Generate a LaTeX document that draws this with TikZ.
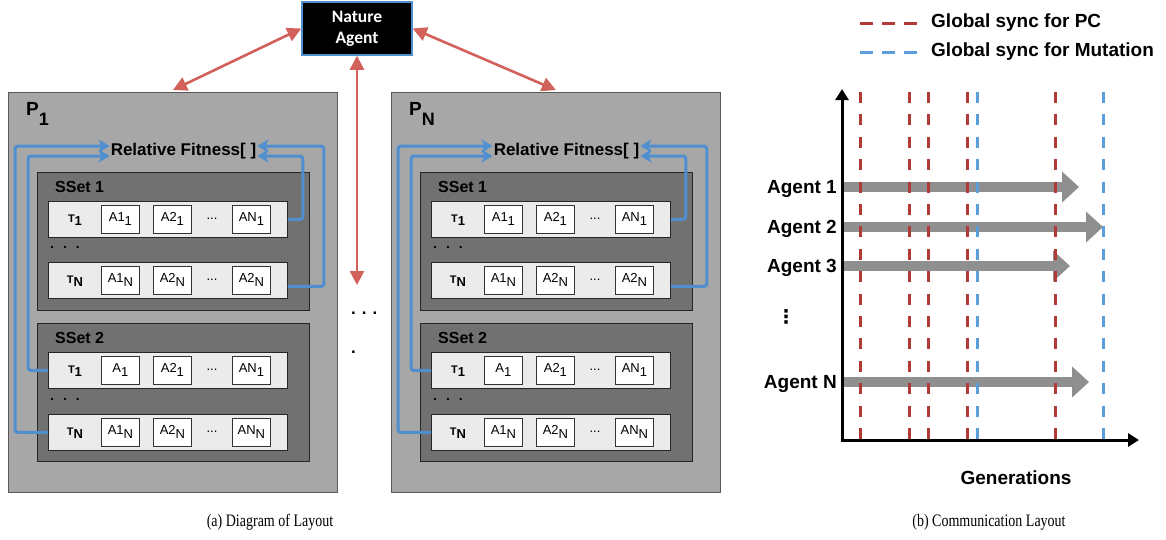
\documentclass[tikz,border=0pt]{standalone}
\usepackage{fontspec}
\setmainfont{Liberation Sans}
\newfontfamily\capserif{Liberation Serif}
\newfontfamily\natfont{Carlito}
\newfontfamily\symfont{DejaVu Sans}
\usetikzlibrary{arrows.meta,calc}
\newcommand{\setfs}[1]{\fontsize{#1}{#1}\selectfont}
\newcommand{\lowsub}[1]{\raisebox{-4pt}{#1}}
\newcommand{\tsub}[1]{T\raisebox{-3.5pt}{\setfs{13}#1}}
\newcommand{\capt}[1]{\scalebox{0.8}[1]{#1}}
\definecolor{panelgray}{HTML}{A7A7A7}
\definecolor{ssetgray}{HTML}{717171}
\definecolor{rowgray}{HTML}{EBEBEB}
\definecolor{linkblue}{HTML}{4F8FD0}
\definecolor{natred}{HTML}{D2605B}
\definecolor{syncred}{HTML}{B23A36}
\definecolor{syncblue}{HTML}{5A9FDB}
\definecolor{agentgray}{HTML}{8F8F8F}
\tikzset{
 panelbox/.style={draw=black!65, fill=panelgray, line width=0.8pt, minimum width=329pt, minimum height=400pt, anchor=north west, inner sep=0pt},
 ssetbox/.style={draw=black!85, fill=ssetgray, line width=1pt, minimum width=272pt, minimum height=138pt, anchor=north west, inner sep=0pt},
 rowbox/.style={draw=black!85, fill=rowgray, line width=0.9pt, minimum width=239pt, minimum height=36pt, anchor=north west, inner sep=0pt},
 abox/.style={draw=black!80, fill=white, line width=0.8pt, minimum width=38pt, minimum height=28pt, anchor=north west, inner sep=0pt, font=\setfs{13}},
 tlab/.style={font=\bfseries\setfs{11}, inner sep=0pt},
 adots/.style={font=\setfs{13}, inner sep=0pt},
 ssetlab/.style={font=\bfseries\setfs{16}, anchor=west, inner sep=0pt},
 plab/.style={font=\bfseries\setfs{19}, anchor=base west, inner sep=0pt},
 rflab/.style={font=\bfseries\setfs{17}, inner sep=1pt},
 rowdots/.style={font=\bfseries\setfs{14}, anchor=west, inner sep=0pt},
 link/.style={draw=linkblue, line width=3pt, rounded corners=3pt, -{Stealth[length=11pt,width=13pt,inset=3pt]}},
 natlink/.style={draw=natred, line width=2.6pt, {Triangle[length=14pt,width=14pt]}-{Triangle[length=14pt,width=14pt]}},
 naturebox/.style={fill=black, draw=linkblue, line width=1.5pt, text=white, minimum width=110pt, minimum height=53pt, align=center, inner sep=0pt, font=\natfont\bfseries\fontsize{17.5}{21}\selectfont},
 middots/.style={font=\bfseries\setfs{17}, anchor=west, inner sep=0pt},
 syncpc/.style={draw=syncred, line width=3pt, dash pattern=on 11pt off 11.4pt},
 syncmut/.style={draw=syncblue, line width=3pt, dash pattern=on 11pt off 11.4pt},
 legpc/.style={draw=syncred, line width=3pt, dash pattern=on 13pt off 9pt},
 legmut/.style={draw=syncblue, line width=3pt, dash pattern=on 13pt off 9pt},
 leglab/.style={font=\bfseries\setfs{19}, anchor=west, inner sep=0pt},
 agentlab/.style={font=\bfseries\setfs{19}, anchor=base east, inner sep=0pt},
 agentarrow/.style={draw=agentgray, line width=10pt, -{Triangle[length=17pt,width=30pt]}},
 axisline/.style={draw=black, line width=3pt, -{Triangle[length=11pt,width=13pt]}},
 captext/.style={font=\capserif\setfs{17.5}, inner sep=0pt},
}
\newcommand{\trow}[6]{%
  \node[rowbox] (#1) at (48,#2) {};
  \node[tlab] (#1t) at (75,#2+19) {#3};
  \node[abox] (#1a) at (101,#2+4) {#4};
  \node[abox] (#1b) at (153,#2+4) {#5};
  \node[adots] (#1d) at (212,#2+18) {...};
  \node[abox] (#1c) at (232,#2+4) {#6};
}
\begin{document}
\begin{tikzpicture}[x=1pt,y=-1pt]
\useasboundingbox (0,0) rectangle (1166,539);
\fill[white] (0,0) rectangle (1166,539);

% ---------- panel (a) ----------
\foreach \k/\dx/\s in {1/0/1,2/383/N}{
 \begin{scope}[xshift=\dx pt]
  \node[panelbox] (pan\k) at (8,92) {};
  \node[plab] (plab\k) at (26,115) {P\raisebox{-10pt}{\setfs{18}\s}};
  \node[rflab] (rf\k) at (183.5,151) {Relative Fitness[ ]};
  \node[ssetbox] (ssa\k) at (37,172) {};
  \node[ssetlab] (ssal\k) at (55,187) {SSet 1};
  \trow{ra\k}{201}{\tsub{1}}{A1\lowsub{1}}{A2\lowsub{1}}{AN\lowsub{1}}
  \node[rowdots] (rdots\k) at (50,247) {.\hskip9pt.\hskip9pt.};
  \trow{rb\k}{262}{\tsub{N}}{A1\lowsub{N}}{A2\lowsub{N}}{A2\lowsub{N}}
  \node[ssetbox] (ssb\k) at (37,323) {};
  \node[ssetlab] (ssbl\k) at (55,338) {SSet 2};
  \trow{rc\k}{352}{\tsub{1}}{A\lowsub{1}}{A2\lowsub{1}}{AN\lowsub{1}}
  \node[rowdots] (rdotsb\k) at (50,399) {.\hskip9pt.\hskip9pt.};
  \trow{rd\k}{414}{\tsub{N}}{A1\lowsub{N}}{A2\lowsub{N}}{AN\lowsub{N}}
  \draw[link] (ra\k.east) -- ++(15,0) |- ($(rf\k.east)+(0,5)$);
  \draw[link] ($(rb\k.east)+(0,6)$) -- ++(36,0) |- ($(rf\k.east)+(0,-5)$);
  \draw[link] (rc\k.west) -- ++(-20,0) |- ($(rf\k.west)+(0,5)$);
  \draw[link] (rd\k.west) -- ++(-33,0) |- ($(rf\k.west)+(0,-5)$);
 \end{scope}
}

\node[naturebox] (nat) at (357,28.5) {Nature\\Agent};
\coordinate (midend) at (357,285);
\draw[natlink] (nat.west) -- ($(pan1.north)+(0,-2)$);
\draw[natlink] (nat.east) -- ($(pan2.north)+(0,-2)$);
\draw[natlink] (nat.south) -- (midend);
\node[middots] (md1) at (351,313) {.\hskip6pt.\hskip6pt.};
\node[middots] (md2) at (351,352) {.};

% ---------- panel (b) ----------
\coordinate (lg1a) at (860,23); \coordinate (lg1b) at (918,23);
\coordinate (lg2a) at (860,52); \coordinate (lg2b) at (918,52);
\draw[legpc] (lg1a) -- (lg1b);
\draw[legmut] (lg2a) -- (lg2b);
\node[leglab] (leg1) at (931,23) {Global sync for PC};
\node[leglab] (leg2) at (931,52) {Global sync for Mutation};

\foreach \n/\y/\tip/\lab in {1/187/1079/Agent 1,2/227/1103/Agent 2,3/266/1070/Agent 3,4/382/1089/Agent N}{
  \node[agentlab] (al\n) at (837,\y+6) {\lab};
  \coordinate (as\n) at (843,\y);
  \coordinate (at\n) at (\tip,\y);
  \draw[agentarrow] (as\n) -- (at\n);
}
\foreach \x in {860,909,928,967,1055} \draw[syncpc] (\x,92) -- (\x,440);
\foreach \x in {977,1103} \draw[syncmut] (\x,92) -- (\x,440);

\coordinate (O) at (842,440);
\coordinate (ytop) at (842,89);
\coordinate (xend) at (1139,440);
\draw[axisline] ($(O)+(0,1.5)$) -- (ytop);
\draw[axisline] ($(O)+(-1.5,0)$) -- (xend);

\node[font=\symfont\bfseries\setfs{19}, inner sep=0pt] (vd) at (786,317) {⋮};
\node[font=\bfseries\setfs{19}, inner sep=0pt] (gen) at (1016,478) {Generations};

% ---------- captions ----------
\node[captext] (capa) at (270,522) {\capt{(a) Diagram of Layout}};
\node[captext] (capb) at (989,522) {\capt{(b) Communication Layout}};
\end{tikzpicture}
\end{document}
